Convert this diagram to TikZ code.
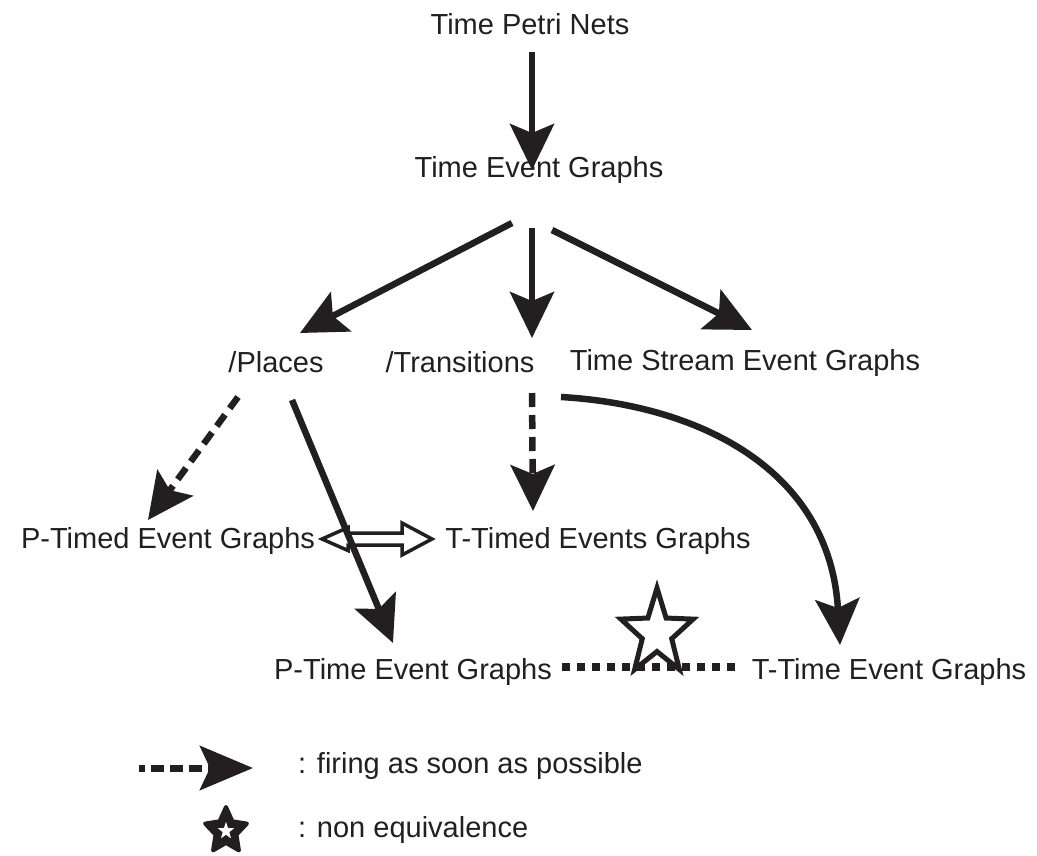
\documentclass[tikz,border=0pt]{standalone}
\usepackage{fontspec}
\setmainfont{Liberation Sans}
\usetikzlibrary{arrows.meta,calc}
\definecolor{ink}{HTML}{231F20}
\tikzset{
  lbl/.style={inner sep=0pt, anchor=base, font=\fontsize{29}{34}\selectfont, text=ink},
  conn/.style={draw=ink, line width=6.5pt, -{Stealth[length=46pt,width=44pt,inset=9pt]}},
  asap/.style={conn, dash pattern=on 14pt off 8pt},
  dotline/.style={draw=ink, line width=8pt, dash pattern=on 8pt off 7pt},
  dbl/.style={draw=ink, fill=white, line width=3.5pt, line join=miter},
  pics/fivestar/.style n args={4}{code={
    \path[pic actions] (-90:#1 and #2) -- (-54:#3 and #4) -- (-18:#1 and #2)
      -- (18:#3 and #4) -- (54:#1 and #2) -- (90:#3 and #4) -- (126:#1 and #2)
      -- (162:#3 and #4) -- (198:#1 and #2) -- (234:#3 and #4) -- cycle;
  }}
}
\begin{document}
\begin{tikzpicture}[x=1pt, y=-1pt]
  \fill[white] (0,0) rectangle (1037,855);
  \useasboundingbox (0,0) rectangle (1037,855);

  % class names
  \node[lbl] (tpn) at (530,34)  {Time Petri Nets};
  \node[lbl] (teg) at (539,177) {Time Event Graphs};
  \node[lbl] (pl)  at (276,372) {/Places};
  \node[lbl] (tr)  at (460,372) {/Transitions};
  \node[lbl] (ts)  at (745,370) {Time Stream Event Graphs};
  \node[lbl] (ptd) at (168,548) {P-Timed Event Graphs};
  \node[lbl] (ttd) at (598,548) {T-Timed Events Graphs};
  \node[lbl] (pt)  at (413,679) {P-Time Event Graphs};
  \node[lbl] (tt)  at (889,679) {T-Time Event Graphs};

  % legend texts
  \node[lbl, anchor=base west] (k1) at (298,773) {: firing as soon as possible};
  \node[lbl, anchor=base west] (k2) at (298,837) {: non equivalence};

  % specialisation arrows
  \draw[conn] ([shift={(2,18)}]tpn.base) -- ([shift={(-7,-7)}]teg.base);
  \draw[conn] ([shift={(-27,46)}]teg.base) -- ([shift={(24,-39)}]pl.base);
  \draw[conn] ([shift={(-7,51)}]teg.base) -- ([shift={(72,-34)}]tr.base);
  \draw[conn] ([shift={(13,53)}]teg.base) -- ([shift={(7,-40)}]ts.base);

  % firing as soon as possible
  \draw[asap] ([shift={(-38,25)}]pl.base) -- ([shift={(-20,-28)}]ptd.base);
  \draw[asap] ([shift={(72,21)}]tr.base) -- ([shift={(-65,-37)}]ttd.base);

  % equivalence between P-timed and T-timed graphs
  \coordinate (da) at ([shift={(154,-9)}]ptd.base);
  \coordinate (db) at ([shift={(-166,-9)}]ttd.base);
  \draw[dbl] (da) -- ++(26,-11.5) -- ++(0,5.5) -- ($(db)+(-30,-6)$) -- ++(0,-10)
    -- (db) -- ++(-30,16) -- ++(0,-10) -- ($(da)+(26,6)$) -- ++(0,5.5) -- cycle;

  \draw[conn] ([shift={(16,28)}]pl.base) -- ([shift={(-20,-36)}]pt.base);
  \draw[conn] ([shift={(101,25)}]tr.base) .. controls +(139,8) and +(-10,-175)
    .. ([shift={(-49,-34)}]tt.base);

  % non equivalence between P-time and T-time graphs
  \draw[dotline] ([shift={(149,-12)}]pt.base) -- ([shift={(-154,-12)}]tt.base);
  \coordinate (neq) at (657,633);
  \pic[draw=ink, fill=white, line width=5pt, line join=miter] at (neq) {fivestar={38}{45}{15.5}{18.5}};

  % legend symbols
  \draw[draw=ink, line width=7pt, dash pattern=on 13pt off 6pt, dash phase=7pt,
        -{Stealth[length=53pt,width=44pt,inset=10pt]}]
    ([shift={(-159,-5)}]k1.base west) -- ([shift={(-45,-5)}]k1.base west);
  \coordinate (kstar) at ([shift={(-72,-6)}]k2.base west);
  \pic[draw=ink, fill=ink, line width=4pt, line join=round] at (kstar) {fivestar={22}{24}{11}{12}};
  \pic[fill=white] at (kstar) {fivestar={8.5}{9}{3.5}{3.7}};
\end{tikzpicture}
\end{document}
